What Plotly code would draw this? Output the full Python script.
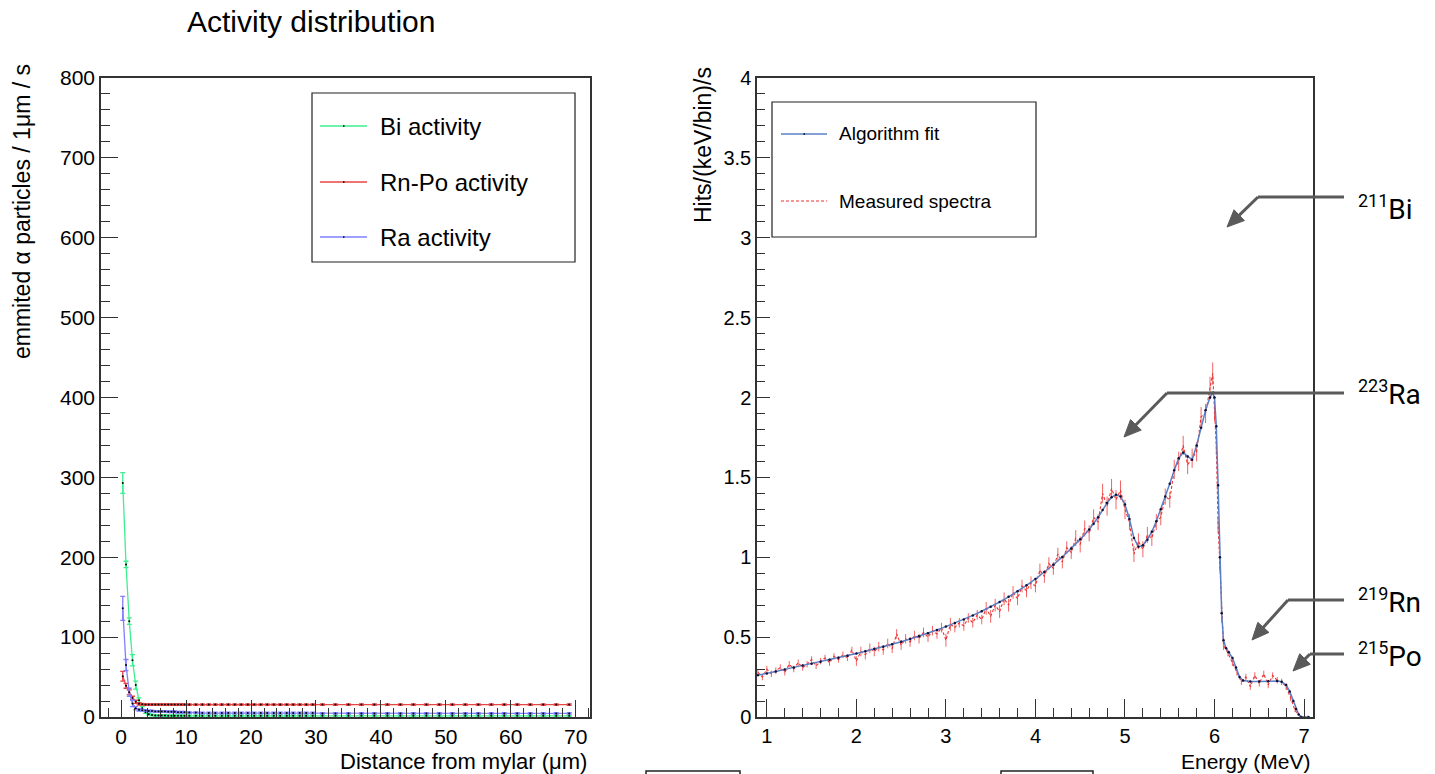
import math
import plotly.graph_objects as go

# ---------------- data: left panel (activity distribution) ----------------
x_dist = [0.25, 0.75, 1.25, 1.75, 2.25, 2.75, 3.25, 3.75, 4.25, 4.75,
          5.25, 5.75, 6.25, 6.75, 7.25, 7.75, 8.25, 8.75, 9.25, 9.75,
          10.5, 11.5, 12.5, 13.5, 14.5, 15.5, 16.5, 17.5, 18.5, 19.5,
          20.5, 21.5, 22.5, 23.5, 24.5, 25.5, 26.5, 27.5, 28.5, 29.5,
          31, 33, 35, 37, 39, 41, 43, 45, 47, 49,
          51, 53, 55, 57, 59, 61, 63, 65, 67, 69]

bi_vals = [293, 191, 120, 71, 40, 21, 11, 6, 3.5, 2.5,
           2, 2, 1.8, 1.8, 1.6, 1.6, 1.5, 1.5, 1.5, 1.5,
           1.5, 1.5, 1.5, 1.5, 1.5, 1.5, 1.5, 1.5, 1.5, 1.5,
           1.5, 1.5, 1.5, 1.5, 1.5, 1.5, 1.5, 1.5, 1.5, 1.5,
           1.5, 1.5, 1.5, 1.5, 1.5, 1.5, 1.5, 1.5, 1.5, 1.5,
           1.5, 1.5, 1.5, 1.5, 1.5, 1.5, 1.5, 1.5, 1.5, 1.5]
bi_err = [13, 4, 4, 7, 5, 3, 2, 1.5, 1, 1,
          1, 1, 1, 1, 1, 1, 1, 1, 1, 1,
          1, 1, 1, 1, 1, 1, 1, 1, 1, 1,
          1, 1, 1, 1, 1, 1, 1, 1, 1, 1,
          1, 1, 1, 1, 1, 1, 1, 1, 1, 1,
          1, 1, 1, 1, 1, 1, 1, 1, 1, 1]

rnpo_vals = [51, 39, 31, 24, 19, 16.5, 16, 15.5, 15.5, 15.5,
             15.5, 15.5, 15.5, 15.5, 15.5, 15.5, 15.5, 15.5, 15.5, 15.5,
             15.5, 15.5, 15.5, 15.5, 15.5, 15.5, 15.5, 15.5, 15.5, 15.5,
             15.5, 15.5, 15.5, 15.5, 15.5, 15.5, 15.5, 15.5, 15.5, 15.5,
             15.5, 15.5, 15.5, 15.5, 15.5, 15.5, 15.5, 15.5, 15.5, 15.5,
             15.5, 15.5, 15.5, 15.5, 15.5, 15.5, 15.5, 15.5, 15.5, 15.5]
rnpo_err = [6, 3, 3, 2, 2, 1.5, 1, 1, 1, 1,
            1, 1, 1, 1, 1, 1, 1, 1, 1, 1,
            1, 1, 1, 1, 1, 1, 1, 1, 1, 1,
            1, 1, 1, 1, 1, 1, 1, 1, 1, 1,
            1, 1, 1, 1, 1, 1, 1, 1, 1, 1,
            1, 1, 1, 1, 1, 1, 1, 1, 1, 1]

ra_vals = [136, 65, 31, 17, 11, 9, 8.5, 8, 7.5, 7.5,
           7, 7, 7, 7, 6.5, 6.5, 6.5, 6, 6, 6,
           5.5, 5.5, 5, 5, 5, 5, 5, 5, 5, 5,
           5, 5, 5, 5, 5, 5, 5, 5, 5, 5,
           4.5, 4.5, 4.5, 4.5, 4.5, 4.5, 4.5, 4.5, 4.5, 4.5,
           4.5, 4.5, 4.5, 4.5, 4.5, 4.5, 4.5, 4.5, 4.5, 4.5]
ra_err = [15, 7, 5, 4, 2, 1.5, 1, 1, 1, 1,
          1, 1, 1, 1, 1, 1, 1, 1, 1, 1,
          1, 1, 1, 1, 1, 1, 1, 1, 1, 1,
          1, 1, 1, 1, 1, 1, 1, 1, 1, 1,
          1, 1, 1, 1, 1, 1, 1, 1, 1, 1,
          1, 1, 1, 1, 1, 1, 1, 1, 1, 1]

series_names = ["Bi activity", "Rn-Po activity", "Ra activity"]
series_colors = ["#3fef8f", "#e84545", "#7f7fff"]

# ---------------- data: right panel (energy spectrum) ----------------
e_fit = [0.90, 1.00, 1.10, 1.20, 1.30, 1.40, 1.50, 1.60, 1.70, 1.80, 1.90,
         2.00, 2.10, 2.20, 2.30, 2.40, 2.50, 2.60, 2.70, 2.80, 2.90,
         3.00, 3.10, 3.20, 3.30, 3.40, 3.50, 3.60, 3.70, 3.80, 3.90,
         4.00, 4.10, 4.20, 4.30, 4.40, 4.50, 4.60, 4.65, 4.70, 4.75,
         4.80, 4.85, 4.90, 4.95, 5.00, 5.05, 5.10, 5.15, 5.20, 5.25,
         5.30, 5.35, 5.40, 5.45, 5.50, 5.55, 5.60, 5.65, 5.70, 5.75,
         5.80, 5.85, 5.90, 5.95, 5.98, 6.00, 6.02, 6.04, 6.06, 6.08,
         6.10, 6.13, 6.16, 6.20, 6.24, 6.28, 6.32, 6.40, 6.50, 6.60,
         6.70, 6.75, 6.80, 6.84, 6.88, 6.91, 6.94, 6.97, 7.05]
fit_vals = [0.262, 0.272, 0.285, 0.298, 0.310, 0.322, 0.334, 0.346, 0.358, 0.371, 0.384,
            0.397, 0.411, 0.425, 0.440, 0.455, 0.471, 0.488, 0.506, 0.525, 0.545,
            0.566, 0.588, 0.611, 0.636, 0.662, 0.690, 0.720, 0.752, 0.787, 0.824,
            0.864, 0.907, 0.953, 1.002, 1.055, 1.112, 1.173, 1.210, 1.250, 1.295,
            1.340, 1.375, 1.392, 1.380, 1.330, 1.240, 1.120, 1.065, 1.075, 1.110,
            1.160, 1.225, 1.300, 1.380, 1.460, 1.545, 1.620, 1.655, 1.630, 1.610,
            1.700, 1.810, 1.920, 2.000, 2.030, 2.000, 1.820, 1.450, 1.000, 0.650,
            0.480, 0.430, 0.405, 0.370, 0.310, 0.250, 0.228, 0.222, 0.222, 0.224,
            0.225, 0.220, 0.200, 0.160, 0.100, 0.050, 0.015, 0.000, 0.000]

e_meas = [0.90, 0.95, 1.00, 1.05, 1.10, 1.15, 1.20, 1.25, 1.30, 1.35, 1.40, 1.45,
          1.50, 1.55, 1.60, 1.65, 1.70, 1.75, 1.80, 1.85, 1.90, 1.95,
          2.00, 2.05, 2.10, 2.15, 2.20, 2.25, 2.30, 2.35, 2.40, 2.45,
          2.50, 2.55, 2.60, 2.65, 2.70, 2.75, 2.80, 2.85, 2.90, 2.95,
          3.00, 3.05, 3.10, 3.15, 3.20, 3.25, 3.30, 3.35, 3.40, 3.45,
          3.50, 3.55, 3.60, 3.65, 3.70, 3.75, 3.80, 3.85, 3.90, 3.95,
          4.00, 4.05, 4.10, 4.15, 4.20, 4.25, 4.30, 4.35, 4.40, 4.45,
          4.50, 4.55, 4.60, 4.65, 4.70, 4.75, 4.80, 4.85, 4.90, 4.95,
          5.00, 5.05, 5.10, 5.15, 5.20, 5.25, 5.30, 5.35, 5.40, 5.45,
          5.50, 5.55, 5.60, 5.65, 5.70, 5.75, 5.80, 5.85, 5.90, 5.95,
          5.98, 6.00, 6.02, 6.04, 6.06, 6.08, 6.10, 6.15, 6.20, 6.25,
          6.30, 6.35, 6.40, 6.45, 6.50, 6.55, 6.60, 6.65, 6.70, 6.75,
          6.80, 6.85, 6.90, 6.95, 7.00, 7.05]
meas_vals = [0.28, 0.25, 0.30, 0.27, 0.29, 0.31, 0.28, 0.33, 0.30, 0.34, 0.31, 0.33,
             0.36, 0.32, 0.35, 0.37, 0.34, 0.38, 0.36, 0.39, 0.37, 0.42,
             0.35, 0.41, 0.39, 0.43, 0.41, 0.44, 0.42, 0.46, 0.43, 0.52,
             0.45, 0.49, 0.47, 0.51, 0.49, 0.53, 0.50, 0.54, 0.52, 0.56,
             0.48, 0.58, 0.56, 0.59, 0.57, 0.62, 0.59, 0.64, 0.61, 0.68,
             0.63, 0.70, 0.66, 0.74, 0.70, 0.78, 0.74, 0.82, 0.79, 0.84,
             0.82, 0.92, 0.88, 0.96, 0.93, 1.02, 0.97, 1.06, 1.03, 1.12,
             1.08, 1.18, 1.15, 1.25, 1.22, 1.40, 1.32, 1.43, 1.36, 1.42,
             1.30, 1.22, 1.02, 1.10, 1.05, 1.14, 1.12, 1.22, 1.25, 1.38,
             1.36, 1.55, 1.60, 1.70, 1.58, 1.62, 1.66, 1.88, 1.90, 2.06,
             2.15, 1.92, 1.70, 1.20, 0.95, 0.62, 0.45, 0.40, 0.34, 0.28,
             0.22, 0.25, 0.19, 0.26, 0.21, 0.27, 0.20, 0.26, 0.23, 0.22,
             0.19, 0.12, 0.04, 0.01, 0.00, 0.00]
meas_err = [0.02, 0.02, 0.02, 0.02, 0.02, 0.02, 0.02, 0.02, 0.02, 0.02, 0.02, 0.02,
            0.02, 0.02, 0.02, 0.02, 0.02, 0.02, 0.02, 0.02, 0.02, 0.02,
            0.03, 0.03, 0.03, 0.03, 0.03, 0.03, 0.03, 0.03, 0.03, 0.03,
            0.03, 0.03, 0.03, 0.03, 0.03, 0.03, 0.03, 0.03, 0.03, 0.03,
            0.04, 0.04, 0.03, 0.03, 0.03, 0.03, 0.03, 0.03, 0.03, 0.04,
            0.04, 0.04, 0.04, 0.04, 0.04, 0.04, 0.04, 0.04, 0.04, 0.04,
            0.04, 0.04, 0.04, 0.04, 0.04, 0.04, 0.04, 0.04, 0.04, 0.05,
            0.05, 0.05, 0.05, 0.05, 0.05, 0.06, 0.06, 0.06, 0.06, 0.06,
            0.06, 0.05, 0.05, 0.05, 0.05, 0.05, 0.05, 0.05, 0.05, 0.05,
            0.05, 0.06, 0.06, 0.06, 0.06, 0.06, 0.06, 0.06, 0.06, 0.07,
            0.07, 0.07, 0.06, 0.05, 0.04, 0.03, 0.03, 0.02, 0.02, 0.02,
            0.02, 0.02, 0.02, 0.02, 0.02, 0.02, 0.02, 0.02, 0.02, 0.02,
            0.02, 0.02, 0.01, 0.01, 0.00, 0.00]

fit_name = "Algorithm fit"
meas_name = "Measured spectra"

isotope_labels = ["211", "223", "219", "215"]
isotope_names = ["Bi", "Ra", "Rn", "Po"]

# ---------------- figure ----------------
W, H = 1435, 774
def px(x):
    return x / W
def py(y):
    return 1 - y / H

fig = go.Figure()

for name, vals, errs, col in zip(series_names, [bi_vals, rnpo_vals, ra_vals],
                                 [bi_err, rnpo_err, ra_err], series_colors):
    fig.add_trace(go.Scatter(
        x=x_dist, y=vals, name=name, mode="lines+markers",
        line=dict(color=col, width=1.3),
        marker=dict(color="black", size=2),
        error_y=dict(type="data", array=errs, color=col, thickness=1.3, width=2.5),
        xaxis="x", yaxis="y", showlegend=False))

fig.add_trace(go.Scatter(
    x=e_meas, y=meas_vals, name=meas_name, mode="lines",
    line=dict(color="#ee3030", width=1.1, dash="3px,2px"),
    error_y=dict(type="data", array=meas_err, color="rgba(238,48,48,0.75)", thickness=1, width=0),
    xaxis="x2", yaxis="y2", showlegend=False))
fig.add_trace(go.Scatter(
    x=e_fit, y=fit_vals, name=fit_name, mode="lines+markers",
    line=dict(color="#5b7fc6", width=1.5),
    marker=dict(color="#111133", size=2.5),
    xaxis="x2", yaxis="y2", showlegend=False))

font_main = "Liberation Sans, Arial, sans-serif"
axcol = "#333333"

def axis_common():
    return dict(showline=True, linecolor=axcol, linewidth=1.5, mirror=True, automargin=False,
                showgrid=False, zeroline=False, ticks="inside", tickcolor=axcol,
                tickwidth=1.2, ticklabelstandoff=0)

y0, y1 = py(717), py(78)
fig.update_layout(
    width=W, height=H, margin=dict(l=0, r=0, t=0, b=0, autoexpand=False),
    paper_bgcolor="white", plot_bgcolor="white",
    font=dict(family=font_main, color="black"),
    xaxis=dict(domain=[px(101), px(590)], range=[-3.1, 72.2], dtick=10, tick0=0,
               ticklen=17, minor=dict(ticks="inside", ticklen=9, dtick=2, tickcolor=axcol),
               tickfont=dict(size=21), anchor="y", **axis_common()),
    yaxis=dict(domain=[y0, y1], range=[0, 800], dtick=100, tick0=0,
               ticklen=17, minor=dict(ticks="inside", ticklen=9, dtick=20, tickcolor=axcol),
               tickfont=dict(size=21), anchor="x", **axis_common()),
    xaxis2=dict(domain=[px(757), px(1313)], range=[0.89, 7.1], dtick=1, tick0=0,
                ticklen=18, minor=dict(ticks="inside", ticklen=9, dtick=0.2, tickcolor=axcol),
                tickfont=dict(size=20), anchor="y2", **axis_common()),
    yaxis2=dict(domain=[y0, y1], range=[0, 4], dtick=0.5, tick0=0,
                ticklen=13, minor=dict(ticks="inside", ticklen=8, dtick=0.1, tickcolor=axcol),
                tickfont=dict(size=20), anchor="x2", **axis_common()),
)

ann = []
shapes = []
# titles
ann.append(dict(text="Activity distribution", x=px(311), y=py(22), xref="paper", yref="paper",
                showarrow=False, font=dict(size=30), xanchor="center", yanchor="middle"))
ann.append(dict(text="emmited α particles / 1μm / s", x=px(22), y=py(212), xref="paper", yref="paper",
                showarrow=False, textangle=-90, font=dict(size=23), xanchor="center", yanchor="middle"))
ann.append(dict(text="Distance from mylar (μm)", x=px(589), y=py(761), xref="paper", yref="paper",
                showarrow=False, font=dict(size=22), xanchor="right", yanchor="middle"))
ann.append(dict(text="Hits/(keV/bin)/s", x=px(703), y=py(145), xref="paper", yref="paper",
                showarrow=False, textangle=-90, font=dict(size=23), xanchor="center", yanchor="middle"))
ann.append(dict(text="Energy (MeV)", x=px(1313), y=py(761), xref="paper", yref="paper",
                showarrow=False, font=dict(size=21), xanchor="right", yanchor="middle"))

# left legend
shapes.append(dict(type="rect", xref="paper", yref="paper", x0=px(312), x1=px(575), y0=py(262), y1=py(93),
                   line=dict(color="#222", width=1.2), fillcolor="white", layer="above"))
for i, (name, col) in enumerate(zip(series_names, series_colors)):
    yy = [126, 182, 237][i]
    shapes.append(dict(type="line", xref="paper", yref="paper", x0=px(320), x1=px(367), y0=py(yy), y1=py(yy),
                       line=dict(color=col, width=1.5), layer="above"))
    shapes.append(dict(type="rect", xref="paper", yref="paper", x0=px(343), x1=px(344.5), y0=py(yy + 0.8), y1=py(yy - 0.8),
                       line=dict(width=0), fillcolor="black", layer="above"))
    ann.append(dict(text=name, x=px(378), y=py(yy), xref="paper", yref="paper", showarrow=False,
                    font=dict(size=24), xanchor="left", yanchor="middle"))

# right legend
shapes.append(dict(type="rect", xref="paper", yref="paper", x0=px(772), x1=px(1036), y0=py(237), y1=py(102),
                   line=dict(color="#222", width=1.2), fillcolor="white", layer="above"))
shapes.append(dict(type="line", xref="paper", yref="paper", x0=px(781), x1=px(827), y0=py(134), y1=py(134),
                   line=dict(color="#5b7fc6", width=1.3), layer="above"))
shapes.append(dict(type="rect", xref="paper", yref="paper", x0=px(803.5), x1=px(805), y0=py(134.8), y1=py(133.2),
                   line=dict(width=0), fillcolor="black", layer="above"))
shapes.append(dict(type="line", xref="paper", yref="paper", x0=px(781), x1=px(827), y0=py(201), y1=py(201),
                   line=dict(color="#ee3030", width=1.2, dash="3px,2px"), layer="above"))
ann.append(dict(text=fit_name, x=px(837), y=py(134), xref="paper", yref="paper", showarrow=False,
                font=dict(size=19), xanchor="left", yanchor="middle"))
ann.append(dict(text=meas_name, x=px(837), y=py(201), xref="paper", yref="paper", showarrow=False,
                font=dict(size=19), xanchor="left", yanchor="middle"))

# isotope annotations with bent arrows (drawn as shapes)
arrow_col = "#5a5a5a"
arrows = [  # tip(x,y), bend(x,y), label y
    ((1227, 227), (1258, 197), 208),
    ((1124, 437), (1167, 393), 393),
    ((1252, 640), (1288, 600), 601),
    ((1293, 671), (1310, 654), 655),
]
head_len, head_half = 17, 7.5
for (tip, bend, ly), num, el in zip(arrows, isotope_labels, isotope_names):
    # horizontal segment
    shapes.append(dict(type="line", xref="paper", yref="paper", x0=px(bend[0]), x1=px(1344),
                       y0=py(bend[1]), y1=py(bend[1]), line=dict(color=arrow_col, width=3), layer="above"))
    # diagonal segment up to the arrow head base
    dx, dy = tip[0] - bend[0], tip[1] - bend[1]
    L = math.hypot(dx, dy)
    ux, uy = dx / L, dy / L
    bx, by = tip[0] - ux * head_len, tip[1] - uy * head_len
    shapes.append(dict(type="line", xref="paper", yref="paper", x0=px(bend[0]), x1=px(bx + ux * 2),
                       y0=py(bend[1]), y1=py(by + uy * 2), line=dict(color=arrow_col, width=3), layer="above"))
    # arrow head
    nx, ny = -uy, ux
    p1 = (bx + nx * head_half, by + ny * head_half)
    p2 = (bx - nx * head_half, by - ny * head_half)
    path = (f"M {px(tip[0])} {py(tip[1])} L {px(p1[0])} {py(p1[1])} "
            f"L {px(p2[0])} {py(p2[1])} Z")
    shapes.append(dict(type="path", xref="paper", yref="paper", path=path,
                       fillcolor=arrow_col, line=dict(color=arrow_col, width=1), layer="above"))
    ann.append(dict(text=f"<sup><span style='font-size:18px'>{num}</span></sup>{el}",
                    x=px(1356), y=py(ly), xref="paper", yref="paper",
                    showarrow=False, font=dict(size=28, family="Roboto, sans-serif", color="black"),
                    xanchor="left", yanchor="middle"))

# partial boxes at the bottom edge
for x0, x1 in [(646, 740), (1001, 1093)]:
    shapes.append(dict(type="rect", xref="paper", yref="paper", x0=px(x0), x1=px(x1), y0=py(790), y1=py(771),
                       line=dict(color="#222", width=1.5), fillcolor="white", layer="above"))

fig.update_layout(annotations=ann, shapes=shapes)
fig.write_html("out.html", config={"displayModeBar": False},
               post_script="document.body.style.margin='0px';")
